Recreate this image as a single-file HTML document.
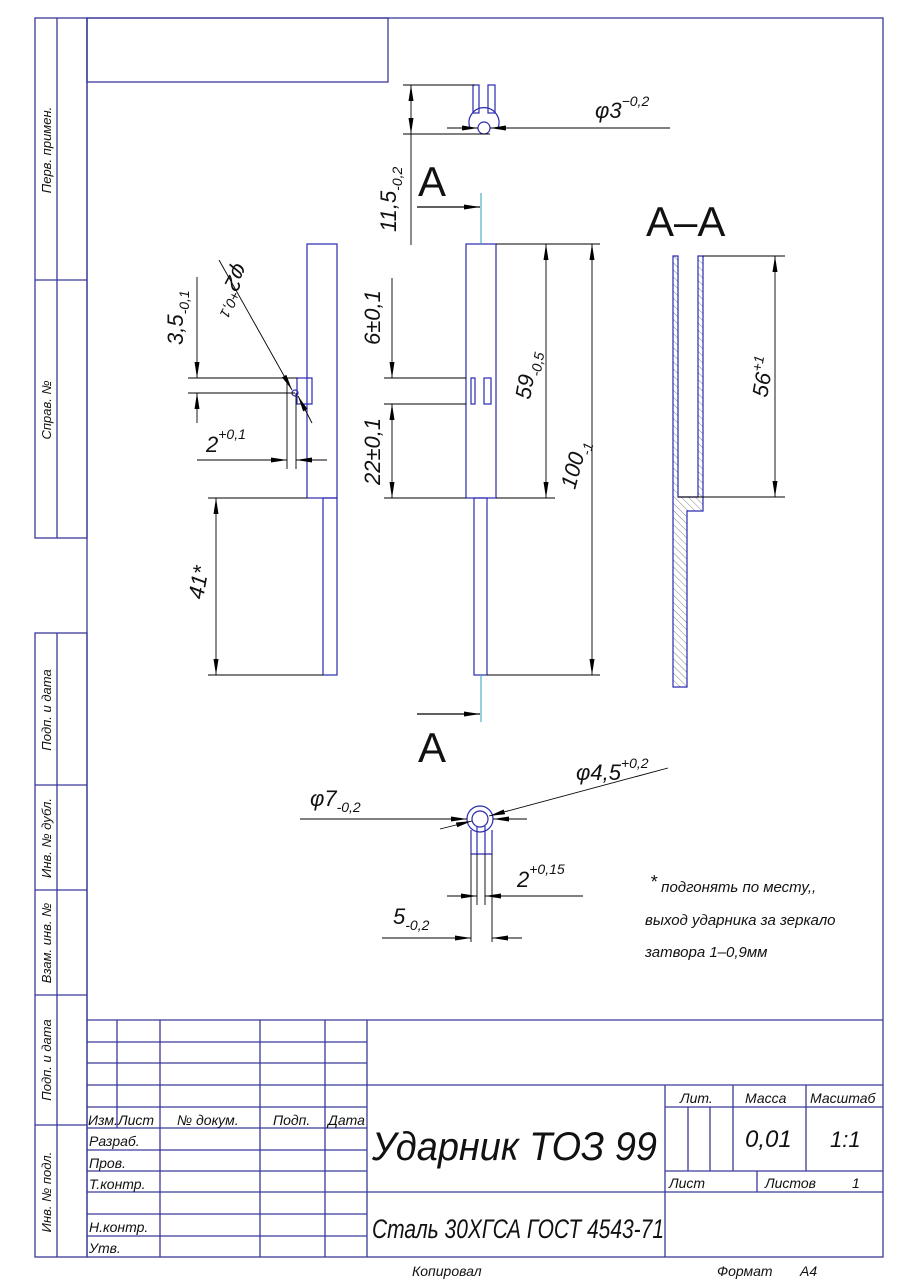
<!DOCTYPE html>
<html><head><meta charset="utf-8"><style>
html,body{margin:0;padding:0;background:#fff;}
svg{display:block;}
text{font-family:"Liberation Sans","DejaVu Sans",sans-serif;font-style:italic;fill:#111;}
</style></head><body>
<svg width="905" height="1280" viewBox="0 0 905 1280" xmlns="http://www.w3.org/2000/svg">
<defs>
<marker id="a" viewBox="0 0 16 5" refX="16" refY="2.5" markerWidth="16" markerHeight="5" markerUnits="userSpaceOnUse" orient="auto-start-reverse"><path d="M0,0 L16,2.5 L0,5 z" fill="#000"/></marker>
<pattern id="h" width="5" height="5" patternUnits="userSpaceOnUse" patternTransform="rotate(-45)"><line x1="0" y1="0" x2="0" y2="5" stroke="#666" stroke-width="0.8"/></pattern>
</defs>
<rect x="0" y="0" width="905" height="1280" fill="#fff"/>
<g stroke="#3a3a9a" stroke-width="1.3" fill="none">
<rect x="87" y="18" width="796" height="1239"/>
<rect x="87" y="18" width="301" height="64"/>
<rect x="35" y="18" width="52" height="520"/>
<line x1="57" y1="18" x2="57" y2="538"/>
<line x1="35" y1="280" x2="87" y2="280"/>
<rect x="35" y="633" width="52" height="624"/>
<line x1="57" y1="633" x2="57" y2="1257"/>
<line x1="35" y1="785" x2="87" y2="785"/>
<line x1="35" y1="890" x2="87" y2="890"/>
<line x1="35" y1="995" x2="87" y2="995"/>
<line x1="35" y1="1125" x2="87" y2="1125"/>
<line x1="87" y1="1020" x2="883" y2="1020"/>
<line x1="87" y1="1042" x2="367" y2="1042"/>
<line x1="87" y1="1063" x2="367" y2="1063"/>
<line x1="87" y1="1085" x2="883" y2="1085"/>
<line x1="87" y1="1107" x2="367" y2="1107"/>
<line x1="87" y1="1128" x2="367" y2="1128"/>
<line x1="87" y1="1150" x2="367" y2="1150"/>
<line x1="87" y1="1171" x2="367" y2="1171"/>
<line x1="87" y1="1192" x2="883" y2="1192"/>
<line x1="87" y1="1214" x2="367" y2="1214"/>
<line x1="87" y1="1236" x2="367" y2="1236"/>
<line x1="117" y1="1020" x2="117" y2="1128"/>
<line x1="160" y1="1020" x2="160" y2="1257"/>
<line x1="260" y1="1020" x2="260" y2="1257"/>
<line x1="325" y1="1020" x2="325" y2="1257"/>
<line x1="367" y1="1020" x2="367" y2="1257"/>
<line x1="665" y1="1085" x2="665" y2="1257"/>
<line x1="665" y1="1107" x2="883" y2="1107"/>
<line x1="665" y1="1171" x2="883" y2="1171"/>
<line x1="733" y1="1085" x2="733" y2="1171"/>
<line x1="806" y1="1085" x2="806" y2="1171"/>
<line x1="688" y1="1107" x2="688" y2="1171"/>
<line x1="710" y1="1107" x2="710" y2="1171"/>
<line x1="757" y1="1171" x2="757" y2="1192"/>
</g>
<g font-size="13">
<text transform="translate(51,150) rotate(-90)" text-anchor="middle">Перв. примен.</text>
<text transform="translate(51,410) rotate(-90)" text-anchor="middle">Справ. №</text>
<text transform="translate(51,710) rotate(-90)" text-anchor="middle">Подп. и дата</text>
<text transform="translate(51,838) rotate(-90)" text-anchor="middle">Инв. № дубл.</text>
<text transform="translate(51,943) rotate(-90)" text-anchor="middle">Взам. инв. №</text>
<text transform="translate(51,1060) rotate(-90)" text-anchor="middle">Подп. и дата</text>
<text transform="translate(51,1192) rotate(-90)" text-anchor="middle">Инв. № подл.</text>
</g>
<g font-size="14">
<text x="88" y="1125">Изм.</text><text x="118" y="1125">Лист</text>
<text x="177" y="1125">№ докум.</text><text x="273" y="1125">Подп.</text><text x="328" y="1125">Дата</text>
<text x="89" y="1146">Разраб.</text>
<text x="89" y="1168">Пров.</text>
<text x="89" y="1189">Т.контр.</text>
<text x="89" y="1232">Н.контр.</text>
<text x="89" y="1253">Утв.</text>
<text x="680" y="1103">Лит.</text><text x="745" y="1103">Масса</text><text x="810" y="1103">Масштаб</text>
<text x="669" y="1188">Лист</text><text x="765" y="1188">Листов</text><text x="852" y="1188">1</text>
<text x="412" y="1276">Копировал</text>
<text x="717" y="1276">Формат</text><text x="800" y="1276">А4</text>
</g>
<text x="745" y="1147" font-size="24">0,01</text>
<text x="830" y="1147" font-size="22">1:1</text>
<text x="372" y="1160" font-size="40" textLength="285" lengthAdjust="spacingAndGlyphs">Ударник ТОЗ 99</text>
<text x="372" y="1238" font-size="27" textLength="292" lengthAdjust="spacingAndGlyphs">Сталь 30ХГСА  ГОСТ 4543-71</text>

<g stroke="#2a2ab0" stroke-width="1.2" fill="none">
<rect x="307" y="244" width="30" height="254"/>
<rect x="323" y="498" width="14" height="177"/>
<rect x="297" y="378" width="15" height="26"/>
<circle cx="295" cy="393" r="3"/>
<rect x="466" y="244" width="30" height="254"/>
<rect x="474" y="498" width="13" height="177"/>
<rect x="471" y="378" width="4" height="26"/>
<rect x="484" y="378" width="7" height="26"/>
<rect x="473" y="85" width="6" height="28"/>
<rect x="488" y="85" width="7" height="28"/>
<path d="M470,128 A15,15 0 1 1 498,128"/>
<circle cx="484" cy="128" r="6"/>
<circle cx="480" cy="819" r="13"/>
<circle cx="480" cy="819" r="8"/>
<line x1="471" y1="830" x2="471" y2="854"/><line x1="492" y1="830" x2="492" y2="854"/>
<line x1="477" y1="826" x2="477" y2="854"/><line x1="485" y1="826" x2="485" y2="854"/>
<line x1="471" y1="854" x2="492" y2="854"/>
<path d="M673,256 V687 H687 V511 H703 V256 H698 V497 H678 V256 Z" fill="url(#h)"/>
</g>
<g stroke="#2aa0b0" stroke-width="1">
<line x1="481" y1="193" x2="481" y2="244"/>
<line x1="481" y1="675" x2="481" y2="722"/>
</g>
<g stroke="#000" stroke-width="0.9" fill="none">
<line x1="188" y1="378" x2="297" y2="378"/>
<line x1="188" y1="393" x2="295" y2="393"/>
<line x1="197" y1="277" x2="197" y2="378" marker-end="url(#a)"/>
<line x1="197" y1="423" x2="197" y2="393" marker-end="url(#a)"/>
<line x1="287" y1="378" x2="287" y2="469"/>
<line x1="296" y1="393" x2="296" y2="469"/>
<line x1="197" y1="460" x2="287" y2="460" marker-end="url(#a)"/>
<line x1="327" y1="460" x2="296" y2="460" marker-end="url(#a)"/>
<line x1="219" y1="260" x2="292" y2="390" marker-end="url(#a)"/>
<line x1="312" y1="423" x2="298" y2="396" marker-end="url(#a)"/>
<line x1="208" y1="498" x2="307" y2="498"/>
<line x1="208" y1="675" x2="323" y2="675"/>
<line x1="216" y1="498" x2="216" y2="675" marker-start="url(#a)" marker-end="url(#a)"/>
<line x1="384" y1="378" x2="466" y2="378"/>
<line x1="384" y1="404" x2="466" y2="404"/>
<line x1="384" y1="498" x2="466" y2="498"/>
<line x1="392" y1="278" x2="392" y2="378" marker-end="url(#a)"/>
<line x1="392" y1="404" x2="392" y2="498" marker-start="url(#a)" marker-end="url(#a)"/>
<line x1="496" y1="244" x2="600" y2="244"/>
<line x1="496" y1="498" x2="555" y2="498"/>
<line x1="487" y1="675" x2="600" y2="675"/>
<line x1="546" y1="244" x2="546" y2="498" marker-start="url(#a)" marker-end="url(#a)"/>
<line x1="592" y1="244" x2="592" y2="675" marker-start="url(#a)" marker-end="url(#a)"/>
<line x1="403" y1="85" x2="475" y2="85"/>
<line x1="403" y1="134" x2="490" y2="134"/>
<line x1="411" y1="110" x2="411" y2="85" marker-end="url(#a)"/>
<line x1="411" y1="110" x2="411" y2="134" marker-end="url(#a)"/>
<line x1="411" y1="134" x2="411" y2="245"/>
<line x1="447" y1="128" x2="478" y2="128" marker-end="url(#a)"/>
<line x1="670" y1="128" x2="490" y2="128" marker-end="url(#a)"/>
<line x1="417" y1="207" x2="480" y2="207" stroke-width="1.2" marker-end="url(#a)"/>
<line x1="417" y1="714" x2="480" y2="714" stroke-width="1.2" marker-end="url(#a)"/>
<line x1="703" y1="256" x2="785" y2="256"/>
<line x1="678" y1="497" x2="785" y2="497"/>
<line x1="775" y1="256" x2="775" y2="497" marker-start="url(#a)" marker-end="url(#a)"/>
<line x1="300" y1="819" x2="467" y2="819" marker-end="url(#a)"/>
<line x1="527" y1="819" x2="493" y2="819" marker-end="url(#a)"/>
<line x1="668" y1="768" x2="489" y2="816" marker-end="url(#a)"/>
<line x1="440" y1="829" x2="472" y2="821" marker-end="url(#a)"/>
<line x1="471" y1="854" x2="471" y2="942"/><line x1="492" y1="854" x2="492" y2="942"/>
<line x1="477" y1="854" x2="477" y2="905"/><line x1="485" y1="854" x2="485" y2="905"/>
<line x1="447" y1="896" x2="477" y2="896" marker-end="url(#a)"/>
<line x1="583" y1="896" x2="485" y2="896" marker-end="url(#a)"/>
<line x1="382" y1="938" x2="471" y2="938" marker-end="url(#a)"/>
<line x1="522" y1="938" x2="492" y2="938" marker-end="url(#a)"/>
</g>
<g font-size="22">
<text transform="translate(183,345) rotate(-90)">3,5<tspan font-size="14" dy="6">-0,1</tspan></text>
<text transform="translate(236,262) rotate(118)">φ2<tspan font-size="14" dy="-10">+0,1</tspan></text>
<text x="206" y="452">2<tspan font-size="14" dy="-13">+0,1</tspan></text>
<text transform="translate(203,600) rotate(-80)">41*</text>
<text transform="translate(380,345) rotate(-90)">6±0,1</text>
<text transform="translate(380,485) rotate(-90)">22±0,1</text>
<text transform="translate(530,400) rotate(-80)">59<tspan font-size="14" dy="6">-0,5</tspan></text>
<text transform="translate(575,490) rotate(-75)">100<tspan font-size="14" dy="6">-1</tspan></text>
<text transform="translate(396,232) rotate(-90)">11,5<tspan font-size="14" dy="6">-0,2</tspan></text>
<text x="595" y="118">φ3<tspan font-size="14" dy="-12">−0,2</tspan></text>
<text transform="translate(767,398) rotate(-80)">56<tspan font-size="14" dy="-10">+1</tspan></text>
<text x="310" y="806">φ7<tspan font-size="14" dy="6">-0,2</tspan></text>
<text x="576" y="780">φ4,5<tspan font-size="14" dy="-12">+0,2</tspan></text>
<text x="517" y="887">2<tspan font-size="14" dy="-13">+0,15</tspan></text>
<text x="393" y="924">5<tspan font-size="14" dy="6">-0,2</tspan></text>
</g>
<g font-size="42">
<text x="418" y="196" style="font-style:normal">A</text>
<text x="418" y="762" style="font-style:normal">A</text>
<text x="646" y="236" style="font-style:normal">A–A</text>
</g>
<g font-size="15">
<text x="650" y="892"><tspan font-size="18" dy="-4">*</tspan><tspan dy="4"> подгонять по месту,,</tspan></text>
<text x="645" y="925">выход ударника за зеркало</text>
<text x="645" y="957">затвора  1–0,9мм</text>
</g>
</svg>
</body></html>
